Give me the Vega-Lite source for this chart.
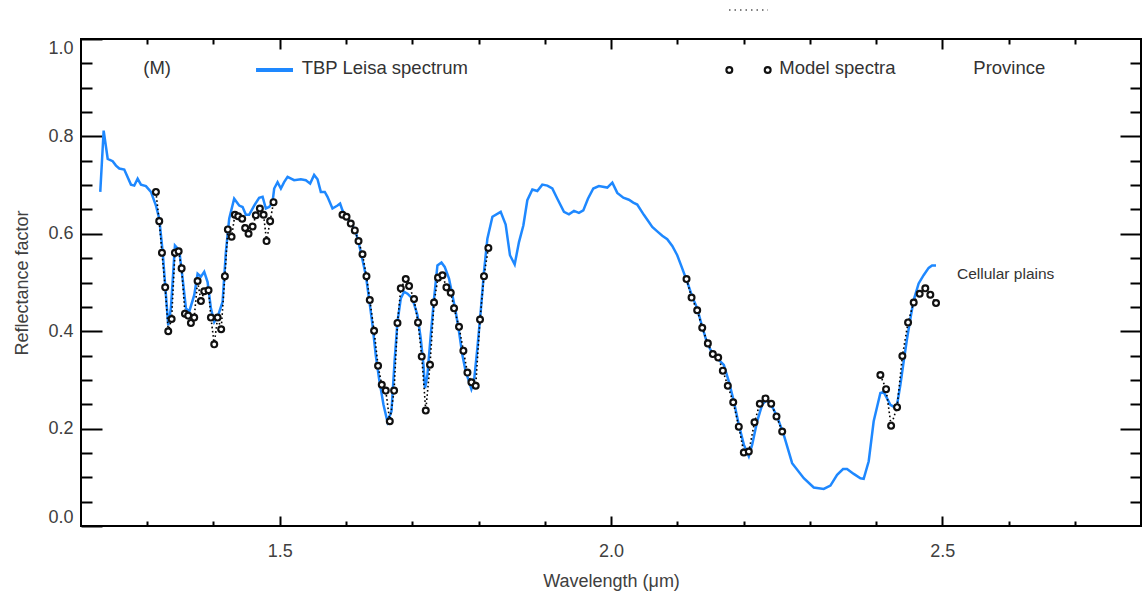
{
  "$schema": "https://vega.github.io/schema/vega-lite/v6.json",
  "width": 1060,
  "height": 487,
  "autosize": {"type": "none"},
  "padding": {"left": 81, "top": 39, "right": 2, "bottom": 74},
  "background": "white",
  "config": {
    "view": {"stroke": "black", "strokeWidth": 2},
    "font": "Liberation Sans",
    "axis": {
      "domain": false,
      "grid": false,
      "tickColor": "black",
      "tickWidth": 2,
      "labelFont": "Liberation Sans",
      "titleFont": "Liberation Sans",
      "labelColor": "#404040",
      "titleColor": "#404040",
      "labelFontSize": 18,
      "titleFontSize": 18,
      "titleFontWeight": "normal"
    }
  },
  "datasets": {
    "spectrum": [
      {"w": 1.2291, "r": 0.686}, {"w": 1.2342, "r": 0.812}, {"w": 1.2403, "r": 0.754}, {"w": 1.2478, "r": 0.749},
      {"w": 1.2528, "r": 0.740}, {"w": 1.2578, "r": 0.734}, {"w": 1.2653, "r": 0.732}, {"w": 1.2754, "r": 0.701},
      {"w": 1.2804, "r": 0.699}, {"w": 1.2855, "r": 0.713}, {"w": 1.2905, "r": 0.701}, {"w": 1.2980, "r": 0.698},
      {"w": 1.3056, "r": 0.686}, {"w": 1.3131, "r": 0.658}, {"w": 1.3181, "r": 0.631}, {"w": 1.3232, "r": 0.564},
      {"w": 1.3282, "r": 0.474}, {"w": 1.3317, "r": 0.412}, {"w": 1.3357, "r": 0.447}, {"w": 1.3418, "r": 0.576},
      {"w": 1.3483, "r": 0.566}, {"w": 1.3534, "r": 0.508}, {"w": 1.3584, "r": 0.447}, {"w": 1.3633, "r": 0.440},
      {"w": 1.3709, "r": 0.474}, {"w": 1.3760, "r": 0.518}, {"w": 1.3810, "r": 0.512}, {"w": 1.3860, "r": 0.522},
      {"w": 1.3911, "r": 0.501}, {"w": 1.3961, "r": 0.447}, {"w": 1.4011, "r": 0.419}, {"w": 1.4071, "r": 0.433},
      {"w": 1.4137, "r": 0.460}, {"w": 1.4187, "r": 0.563}, {"w": 1.4237, "r": 0.631}, {"w": 1.4312, "r": 0.672},
      {"w": 1.4388, "r": 0.658}, {"w": 1.4439, "r": 0.655}, {"w": 1.4489, "r": 0.639}, {"w": 1.4538, "r": 0.639},
      {"w": 1.4614, "r": 0.658}, {"w": 1.4689, "r": 0.674}, {"w": 1.4741, "r": 0.676}, {"w": 1.4790, "r": 0.652},
      {"w": 1.4840, "r": 0.655}, {"w": 1.4891, "r": 0.665}, {"w": 1.4916, "r": 0.693}, {"w": 1.4967, "r": 0.706},
      {"w": 1.5017, "r": 0.693}, {"w": 1.5066, "r": 0.706}, {"w": 1.5118, "r": 0.717}, {"w": 1.5217, "r": 0.710},
      {"w": 1.5318, "r": 0.712}, {"w": 1.5394, "r": 0.710}, {"w": 1.5459, "r": 0.703}, {"w": 1.5519, "r": 0.721},
      {"w": 1.5570, "r": 0.712}, {"w": 1.5620, "r": 0.686}, {"w": 1.5680, "r": 0.686}, {"w": 1.5721, "r": 0.676},
      {"w": 1.5796, "r": 0.652}, {"w": 1.5872, "r": 0.658}, {"w": 1.5911, "r": 0.662}, {"w": 1.5947, "r": 0.648},
      {"w": 1.5997, "r": 0.635}, {"w": 1.6072, "r": 0.624}, {"w": 1.6148, "r": 0.604}, {"w": 1.6223, "r": 0.563},
      {"w": 1.6299, "r": 0.515}, {"w": 1.6348, "r": 0.467}, {"w": 1.6400, "r": 0.413}, {"w": 1.6449, "r": 0.351},
      {"w": 1.6499, "r": 0.303}, {"w": 1.6566, "r": 0.249}, {"w": 1.6626, "r": 0.214}, {"w": 1.6686, "r": 0.235},
      {"w": 1.6736, "r": 0.344}, {"w": 1.6777, "r": 0.419}, {"w": 1.6827, "r": 0.467}, {"w": 1.6876, "r": 0.481},
      {"w": 1.6928, "r": 0.477}, {"w": 1.7003, "r": 0.467}, {"w": 1.7078, "r": 0.433}, {"w": 1.7128, "r": 0.385},
      {"w": 1.7169, "r": 0.331}, {"w": 1.7193, "r": 0.283}, {"w": 1.7229, "r": 0.310}, {"w": 1.7279, "r": 0.392},
      {"w": 1.7329, "r": 0.467}, {"w": 1.7380, "r": 0.535}, {"w": 1.7441, "r": 0.541}, {"w": 1.7490, "r": 0.532},
      {"w": 1.7555, "r": 0.508}, {"w": 1.7606, "r": 0.474}, {"w": 1.7656, "r": 0.440}, {"w": 1.7706, "r": 0.399},
      {"w": 1.7757, "r": 0.351}, {"w": 1.7807, "r": 0.317}, {"w": 1.7857, "r": 0.297}, {"w": 1.7893, "r": 0.281},
      {"w": 1.7932, "r": 0.297}, {"w": 1.7983, "r": 0.365}, {"w": 1.8033, "r": 0.440}, {"w": 1.8083, "r": 0.522},
      {"w": 1.8134, "r": 0.590}, {"w": 1.8210, "r": 0.635}, {"w": 1.8335, "r": 0.645}, {"w": 1.8410, "r": 0.619},
      {"w": 1.8475, "r": 0.556}, {"w": 1.8546, "r": 0.537}, {"w": 1.8611, "r": 0.583}, {"w": 1.8677, "r": 0.617},
      {"w": 1.8737, "r": 0.669}, {"w": 1.8813, "r": 0.691}, {"w": 1.8888, "r": 0.688}, {"w": 1.8963, "r": 0.701},
      {"w": 1.9039, "r": 0.699}, {"w": 1.9114, "r": 0.693}, {"w": 1.9190, "r": 0.672}, {"w": 1.9290, "r": 0.645},
      {"w": 1.9365, "r": 0.640}, {"w": 1.9441, "r": 0.647}, {"w": 1.9516, "r": 0.643}, {"w": 1.9582, "r": 0.648},
      {"w": 1.9652, "r": 0.672}, {"w": 1.9733, "r": 0.693}, {"w": 1.9817, "r": 0.698}, {"w": 1.9944, "r": 0.695},
      {"w": 2.0020, "r": 0.705}, {"w": 2.0095, "r": 0.684}, {"w": 2.0186, "r": 0.674}, {"w": 2.0270, "r": 0.670},
      {"w": 2.0336, "r": 0.664}, {"w": 2.0396, "r": 0.660}, {"w": 2.0496, "r": 0.639}, {"w": 2.0623, "r": 0.614},
      {"w": 2.0698, "r": 0.605}, {"w": 2.0774, "r": 0.596}, {"w": 2.0849, "r": 0.589}, {"w": 2.0925, "r": 0.575},
      {"w": 2.1000, "r": 0.556}, {"w": 2.1075, "r": 0.529}, {"w": 2.1151, "r": 0.501}, {"w": 2.1226, "r": 0.471},
      {"w": 2.1301, "r": 0.447}, {"w": 2.1377, "r": 0.409}, {"w": 2.1452, "r": 0.375}, {"w": 2.1528, "r": 0.355},
      {"w": 2.1627, "r": 0.341}, {"w": 2.1703, "r": 0.331}, {"w": 2.1778, "r": 0.297}, {"w": 2.1854, "r": 0.256},
      {"w": 2.1929, "r": 0.208}, {"w": 2.2005, "r": 0.167}, {"w": 2.2080, "r": 0.143}, {"w": 2.2131, "r": 0.167},
      {"w": 2.2206, "r": 0.215}, {"w": 2.2282, "r": 0.249}, {"w": 2.2347, "r": 0.259}, {"w": 2.2433, "r": 0.245},
      {"w": 2.2507, "r": 0.225}, {"w": 2.2608, "r": 0.187}, {"w": 2.2734, "r": 0.129}, {"w": 2.2910, "r": 0.098},
      {"w": 2.3060, "r": 0.079}, {"w": 2.3211, "r": 0.076}, {"w": 2.3312, "r": 0.083}, {"w": 2.3413, "r": 0.105},
      {"w": 2.3503, "r": 0.117}, {"w": 2.3563, "r": 0.117}, {"w": 2.3664, "r": 0.107}, {"w": 2.3765, "r": 0.098},
      {"w": 2.3814, "r": 0.097}, {"w": 2.3890, "r": 0.133}, {"w": 2.3965, "r": 0.215}, {"w": 2.4066, "r": 0.273},
      {"w": 2.4116, "r": 0.275}, {"w": 2.4167, "r": 0.262}, {"w": 2.4217, "r": 0.249}, {"w": 2.4267, "r": 0.245},
      {"w": 2.4318, "r": 0.249}, {"w": 2.4368, "r": 0.290}, {"w": 2.4418, "r": 0.338}, {"w": 2.4469, "r": 0.385},
      {"w": 2.4519, "r": 0.426}, {"w": 2.4569, "r": 0.464}, {"w": 2.4644, "r": 0.498}, {"w": 2.4719, "r": 0.515},
      {"w": 2.4795, "r": 0.530}, {"w": 2.4846, "r": 0.535}, {"w": 2.4906, "r": 0.535}
    ],
    "model": [
      {"w": 1.3131, "r": 0.686, "seg": 1}, {"w": 1.3181, "r": 0.626, "seg": 1}, {"w": 1.3222, "r": 0.561, "seg": 1},
      {"w": 1.3271, "r": 0.490, "seg": 1}, {"w": 1.3317, "r": 0.400, "seg": 1}, {"w": 1.3368, "r": 0.425, "seg": 1},
      {"w": 1.3418, "r": 0.561, "seg": 1}, {"w": 1.3474, "r": 0.564, "seg": 1}, {"w": 1.3519, "r": 0.529, "seg": 1},
      {"w": 1.3569, "r": 0.436, "seg": 1}, {"w": 1.3618, "r": 0.432, "seg": 1}, {"w": 1.3659, "r": 0.417, "seg": 1},
      {"w": 1.3709, "r": 0.428, "seg": 1}, {"w": 1.3760, "r": 0.503, "seg": 1}, {"w": 1.3810, "r": 0.462, "seg": 1},
      {"w": 1.3860, "r": 0.482, "seg": 1}, {"w": 1.3925, "r": 0.484, "seg": 1}, {"w": 1.3961, "r": 0.428, "seg": 1},
      {"w": 1.4011, "r": 0.373, "seg": 1}, {"w": 1.4062, "r": 0.428, "seg": 1}, {"w": 1.4116, "r": 0.404, "seg": 1},
      {"w": 1.4172, "r": 0.513, "seg": 1}, {"w": 1.4217, "r": 0.609, "seg": 1}, {"w": 1.4273, "r": 0.594, "seg": 1},
      {"w": 1.4323, "r": 0.639, "seg": 1}, {"w": 1.4373, "r": 0.636, "seg": 1}, {"w": 1.4433, "r": 0.631, "seg": 1},
      {"w": 1.4478, "r": 0.612, "seg": 1}, {"w": 1.4529, "r": 0.600, "seg": 1}, {"w": 1.4590, "r": 0.615, "seg": 1},
      {"w": 1.4639, "r": 0.638, "seg": 1}, {"w": 1.4700, "r": 0.652, "seg": 1}, {"w": 1.4756, "r": 0.639, "seg": 1},
      {"w": 1.4801, "r": 0.585, "seg": 1}, {"w": 1.4855, "r": 0.626, "seg": 1}, {"w": 1.4906, "r": 0.665, "seg": 1},
      {"w": 1.5947, "r": 0.639, "seg": 2}, {"w": 1.6008, "r": 0.635, "seg": 2}, {"w": 1.6072, "r": 0.621, "seg": 2},
      {"w": 1.6133, "r": 0.607, "seg": 2}, {"w": 1.6189, "r": 0.585, "seg": 2}, {"w": 1.6249, "r": 0.558, "seg": 2},
      {"w": 1.6309, "r": 0.513, "seg": 2}, {"w": 1.6359, "r": 0.464, "seg": 2}, {"w": 1.6424, "r": 0.401, "seg": 2},
      {"w": 1.6484, "r": 0.329, "seg": 2}, {"w": 1.6540, "r": 0.290, "seg": 2}, {"w": 1.6600, "r": 0.278, "seg": 2},
      {"w": 1.6661, "r": 0.215, "seg": 2}, {"w": 1.6726, "r": 0.278, "seg": 2}, {"w": 1.6777, "r": 0.417, "seg": 2},
      {"w": 1.6827, "r": 0.488, "seg": 2}, {"w": 1.6902, "r": 0.507, "seg": 2}, {"w": 1.6952, "r": 0.493, "seg": 2},
      {"w": 1.7027, "r": 0.466, "seg": 2}, {"w": 1.7087, "r": 0.418, "seg": 2}, {"w": 1.7143, "r": 0.348, "seg": 2},
      {"w": 1.7204, "r": 0.237, "seg": 2}, {"w": 1.7268, "r": 0.331, "seg": 2}, {"w": 1.7329, "r": 0.459, "seg": 2},
      {"w": 1.7389, "r": 0.510, "seg": 2}, {"w": 1.7456, "r": 0.515, "seg": 2}, {"w": 1.7516, "r": 0.490, "seg": 2},
      {"w": 1.7581, "r": 0.479, "seg": 2}, {"w": 1.7631, "r": 0.447, "seg": 2}, {"w": 1.7706, "r": 0.409, "seg": 2},
      {"w": 1.7772, "r": 0.360, "seg": 2}, {"w": 1.7833, "r": 0.315, "seg": 2}, {"w": 1.7893, "r": 0.295, "seg": 2},
      {"w": 1.7958, "r": 0.288, "seg": 2}, {"w": 1.8023, "r": 0.424, "seg": 2}, {"w": 1.8083, "r": 0.513, "seg": 2},
      {"w": 1.8149, "r": 0.571, "seg": 2},
      {"w": 2.1140, "r": 0.507, "seg": 3}, {"w": 2.1216, "r": 0.469, "seg": 3}, {"w": 2.1301, "r": 0.443, "seg": 3},
      {"w": 2.1377, "r": 0.407, "seg": 3}, {"w": 2.1462, "r": 0.375, "seg": 3}, {"w": 2.1537, "r": 0.353, "seg": 3},
      {"w": 2.1618, "r": 0.346, "seg": 3}, {"w": 2.1688, "r": 0.319, "seg": 3}, {"w": 2.1763, "r": 0.288, "seg": 3},
      {"w": 2.1845, "r": 0.254, "seg": 3}, {"w": 2.1929, "r": 0.204, "seg": 3}, {"w": 2.2005, "r": 0.151, "seg": 3},
      {"w": 2.2080, "r": 0.153, "seg": 3}, {"w": 2.2166, "r": 0.213, "seg": 3}, {"w": 2.2246, "r": 0.251, "seg": 3},
      {"w": 2.2332, "r": 0.262, "seg": 3}, {"w": 2.2418, "r": 0.251, "seg": 3}, {"w": 2.2498, "r": 0.225, "seg": 3},
      {"w": 2.2584, "r": 0.194, "seg": 3},
      {"w": 2.4066, "r": 0.310, "seg": 4}, {"w": 2.4152, "r": 0.281, "seg": 4}, {"w": 2.4228, "r": 0.206, "seg": 4},
      {"w": 2.4318, "r": 0.244, "seg": 4}, {"w": 2.4398, "r": 0.349, "seg": 4}, {"w": 2.4484, "r": 0.418, "seg": 4},
      {"w": 2.4569, "r": 0.459, "seg": 4}, {"w": 2.4659, "r": 0.477, "seg": 4}, {"w": 2.4744, "r": 0.488, "seg": 4},
      {"w": 2.4820, "r": 0.475, "seg": 4}, {"w": 2.4906, "r": 0.458, "seg": 4}
    ],
    "legendText": [
      {"w": 1.2940, "r": 0.940, "label": "(M)"},
      {"w": 1.5331, "r": 0.940, "label": "TBP Leisa spectrum"},
      {"w": 2.2540, "r": 0.940, "label": "Model spectra"},
      {"w": 2.5469, "r": 0.940, "label": "Province"}
    ],
    "annotation": [
      {"w": 2.5222, "r": 0.5175, "label": "Cellular plains"}
    ],
    "legendLine": [
      {"w": 1.4642, "w2": 1.5200, "r": 0.9363}
    ],
    "legendPoints": [
      {"w": 2.1786, "r": 0.9363},
      {"w": 2.2365, "r": 0.9363}
    ],
    "topDots": [
      {"w": 2.1781, "w2": 2.2370, "r": 1.0595}
    ]
  },
  "layer": [
    {
      "data": {"name": "spectrum"},
      "mark": {"type": "line", "color": "#1E88FF", "strokeWidth": 2.5},
      "encoding": {
        "x": {"field": "w", "type": "quantitative", "scale": {"domain": [1.2, 2.8], "nice": false, "zero": false},
          "axis": {"orient": "bottom", "values": [1.5, 2.0, 2.5], "format": ".1f", "tickSize": -10, "labelPadding": 26, "title": "Wavelength (μm)", "titlePadding": 12}},
        "y": {"field": "r", "type": "quantitative", "scale": {"domain": [0, 1], "nice": false, "zero": false},
          "axis": {"orient": "left", "values": [0, 0.2, 0.4, 0.6, 0.8, 1.0], "format": ".1f", "tickSize": -21, "labelPadding": 29, "labelFlush": true, "title": "Reflectance factor", "titlePadding": 16}}
      }
    },
    {
      "data": {"name": "model"},
      "mark": {"type": "line", "color": "black", "strokeWidth": 1.6, "strokeDash": [1.6, 2.6]},
      "encoding": {
        "x": {"field": "w", "type": "quantitative", "scale": {"domain": [1.2, 2.8], "nice": false, "zero": false},
          "axis": {"orient": "bottom", "values": [1.3, 1.4, 1.6, 1.7, 1.8, 1.9, 2.1, 2.2, 2.3, 2.4, 2.6, 2.7], "tickSize": -5, "labels": false, "title": null}},
        "y": {"field": "r", "type": "quantitative", "scale": {"domain": [0, 1], "nice": false, "zero": false},
          "axis": {"orient": "left", "values": [0.05, 0.1, 0.15, 0.25, 0.3, 0.35, 0.45, 0.5, 0.55, 0.65, 0.7, 0.75, 0.85, 0.9, 0.95], "tickSize": -11, "labels": false, "title": null}},
        "detail": {"field": "seg", "type": "nominal"}
      }
    },
    {
      "data": {"name": "model"},
      "mark": {"type": "point", "shape": "circle", "filled": false, "fill": "white", "fillOpacity": 1, "stroke": "#111111", "strokeWidth": 2.2, "size": 34, "opacity": 1},
      "encoding": {
        "x": {"field": "w", "type": "quantitative", "scale": {"domain": [1.2, 2.8], "nice": false, "zero": false},
          "axis": {"orient": "top", "values": [1.5, 2.0, 2.5], "tickSize": -10, "labels": false, "title": null}},
        "y": {"field": "r", "type": "quantitative", "scale": {"domain": [0, 1], "nice": false, "zero": false},
          "axis": {"orient": "right", "values": [0.2, 0.4, 0.6, 0.8], "tickSize": -21, "labels": false, "title": null}}
      }
    },
    {
      "data": {"name": "legendText"},
      "mark": {"type": "text", "align": "left", "baseline": "middle", "font": "Liberation Sans", "fontSize": 18.5, "color": "#333333"},
      "encoding": {
        "x": {"field": "w", "type": "quantitative", "scale": {"domain": [1.2, 2.8], "nice": false, "zero": false},
          "axis": {"orient": "top", "values": [1.3, 1.4, 1.6, 1.7, 1.8, 1.9, 2.1, 2.2, 2.3, 2.4, 2.6, 2.7], "tickSize": -5, "labels": false, "title": null}},
        "y": {"field": "r", "type": "quantitative", "scale": {"domain": [0, 1], "nice": false, "zero": false},
          "axis": {"orient": "right", "values": [0.05, 0.1, 0.15, 0.25, 0.3, 0.35, 0.45, 0.5, 0.55, 0.65, 0.7, 0.75, 0.85, 0.9, 0.95], "tickSize": -11, "labels": false, "title": null}},
        "text": {"field": "label", "type": "nominal"}
      }
    },
    {
      "data": {"name": "annotation"},
      "mark": {"type": "text", "align": "left", "baseline": "middle", "font": "Liberation Sans", "fontSize": 15.5, "color": "#333333"},
      "encoding": {
        "x": {"field": "w", "type": "quantitative", "scale": {"domain": [1.2, 2.8], "nice": false, "zero": false}, "axis": null},
        "y": {"field": "r", "type": "quantitative", "scale": {"domain": [0, 1], "nice": false, "zero": false}, "axis": null},
        "text": {"field": "label", "type": "nominal"}
      }
    },
    {
      "data": {"name": "legendLine"},
      "mark": {"type": "rule", "color": "#1E88FF", "strokeWidth": 4},
      "encoding": {
        "x": {"field": "w", "type": "quantitative", "scale": {"domain": [1.2, 2.8], "nice": false, "zero": false}, "axis": null},
        "x2": {"field": "w2"},
        "y": {"field": "r", "type": "quantitative", "scale": {"domain": [0, 1], "nice": false, "zero": false}, "axis": null}
      }
    },
    {
      "data": {"name": "legendPoints"},
      "mark": {"type": "point", "shape": "circle", "filled": false, "fill": "white", "fillOpacity": 1, "stroke": "#111111", "strokeWidth": 2.2, "size": 34, "opacity": 1},
      "encoding": {
        "x": {"field": "w", "type": "quantitative", "scale": {"domain": [1.2, 2.8], "nice": false, "zero": false}, "axis": null},
        "y": {"field": "r", "type": "quantitative", "scale": {"domain": [0, 1], "nice": false, "zero": false}, "axis": null}
      }
    },
    {
      "data": {"name": "topDots"},
      "mark": {"type": "rule", "color": "#555555", "strokeWidth": 1.5, "strokeDash": [1.5, 4]},
      "encoding": {
        "x": {"field": "w", "type": "quantitative", "scale": {"domain": [1.2, 2.8], "nice": false, "zero": false}, "axis": null},
        "x2": {"field": "w2"},
        "y": {"field": "r", "type": "quantitative", "scale": {"domain": [0, 1], "nice": false, "zero": false}, "axis": null}
      }
    }
  ],
  "resolve": {"axis": {"x": "independent", "y": "independent"}}
}
